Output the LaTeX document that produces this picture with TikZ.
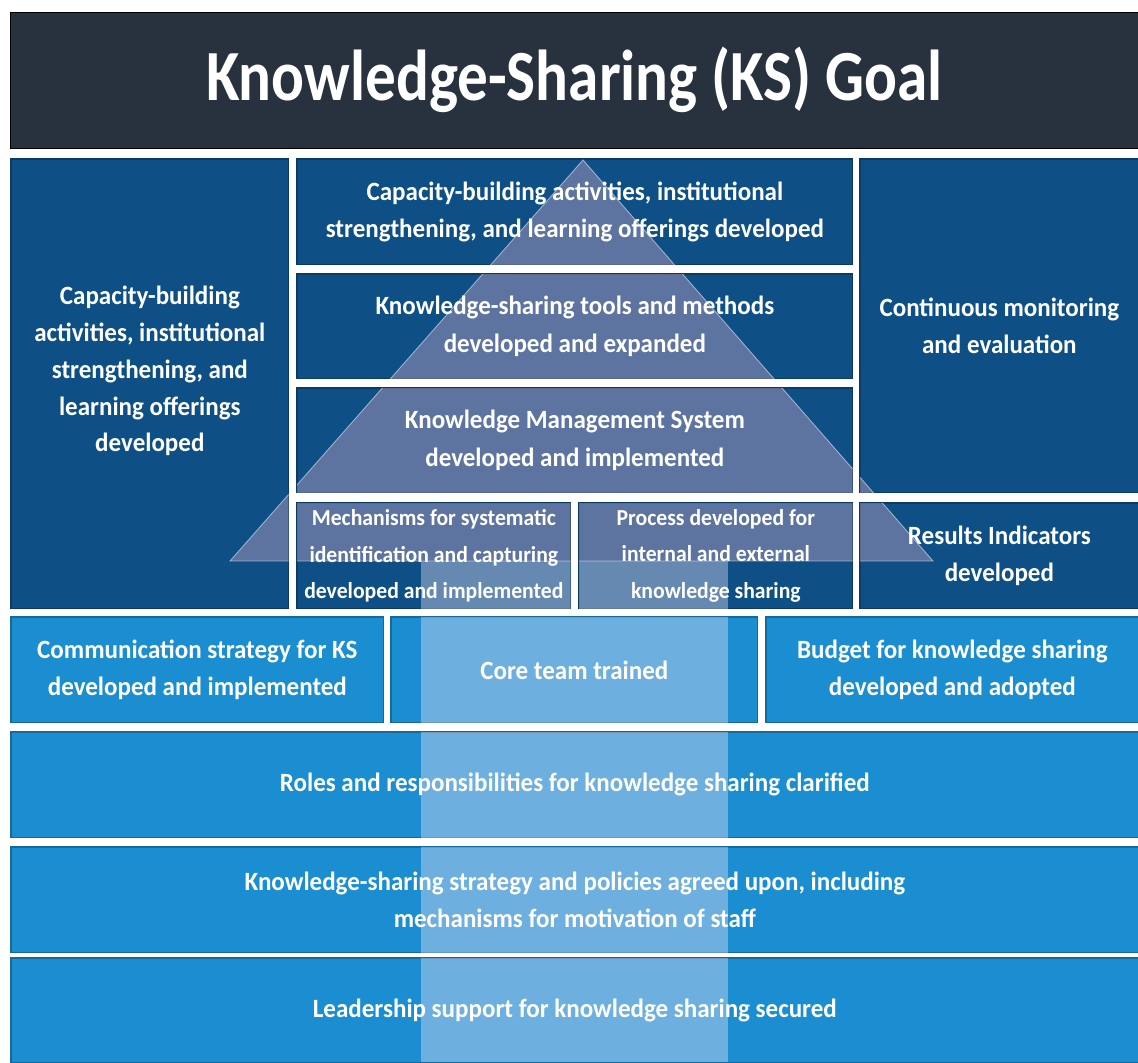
\documentclass[tikz,border=0pt]{standalone}
\usepackage{fontspec}
\setmainfont{Carlito}[FakeStretch=0.95]
\newfontfamily\goalfont{Carlito}[FakeStretch=0.85]

\definecolor{goalbg}{HTML}{28323E}
\definecolor{deepblue}{HTML}{0E4F86}
\definecolor{skyblue}{HTML}{1A8ED0}
\definecolor{pyramidcol}{RGB}{190,161,192}
\definecolor{trunkcol}{RGB}{235,225,245}

\pgfdeclarelayer{boxes}
\pgfdeclarelayer{tint}
\pgfsetlayers{boxes,tint,main}

\begin{document}
\begin{tikzpicture}[x=0.02cm, y=-0.02cm,
  cellbox/.style 2 args={anchor=north west, inner sep=0pt, minimum width=#1*0.02cm, minimum height=#2*0.02cm, text=white, align=center, font=\bfseries\fontsize{15}{21.5}\selectfont},
  smalltext/.style={font=\bfseries\fontsize{13}{20.8}\selectfont},
  pyramid/.style={fill=pyramidcol, fill opacity=0.45},
  trunk/.style={fill=trunkcol, fill opacity=0.4}]
\useasboundingbox (0,0) rectangle (1138,1062);

% goal bar
\node (goal) at (10,12) [cellbox={1128}{136}, fill=goalbg, draw=black, font=\goalfont\bfseries\fontsize{41}{44}\selectfont] {Knowledge-Sharing (KS) Goal};

% upper blocks
\node (capleft) at (11,159) [cellbox={277}{449}, font=\bfseries\fontsize{15}{21}\selectfont] {Capacity-building\\activities, institutional\\strengthening, and\\learning offerings\\developed\\[-4pt]\mbox{}};
\node (cap) at (297,159) [cellbox={555}{105}] {Capacity-building activities, institutional\\strengthening, and learning offerings developed};
\node (tools) at (297,274) [cellbox={555}{104}] {Knowledge-sharing tools and methods\\developed and expanded};
\node (kms) at (297,388) [cellbox={555}{104}] {Knowledge Management System\\developed and implemented};
\node (mech) at (297,503) [cellbox={273}{105}, smalltext] {Mechanisms for systematic\\identification and capturing\\developed and implemented};
\node (proc) at (579,503) [cellbox={273}{105}, smalltext] {Process developed for\\internal and external\\knowledge sharing};
\node (monit) at (860,159) [cellbox={278}{333}] {Continuous monitoring\\and evaluation};
\node (results) at (860,503) [cellbox={278}{105}] {Results Indicators\\developed};

% lower blocks
\node (comm) at (11,617) [cellbox={372}{105}] {Communication strategy for KS\\developed and implemented};
\node (core) at (391,617) [cellbox={366}{105}] {Core team trained};
\node (budget) at (766,617) [cellbox={372}{105}] {Budget for knowledge sharing\\developed and adopted};
\node (roles) at (11,732) [cellbox={1127}{105}] {Roles and responsibilities for knowledge sharing clarified};
\node (strat) at (11,847) [cellbox={1127}{105}] {Knowledge-sharing strategy and policies agreed upon, including\\mechanisms for motivation of staff};
\node (lead) at (11,958) [cellbox={1127}{104}] {Leadership support for knowledge sharing secured};

% pyramid and trunk
\coordinate (apex) at (583,160);
\coordinate (baseR) at (933,561);
\coordinate (baseL) at (230,561);
\coordinate (trunkT) at (421,561);
\coordinate (trunkB) at (728,1062);

\begin{pgfonlayer}{boxes}
\fill[white] (0,0) rectangle (1138,1062);
\foreach \n/\c in {capleft/deepblue, cap/deepblue, tools/deepblue, kms/deepblue, mech/deepblue, proc/deepblue, monit/deepblue, results/deepblue, comm/skyblue, core/skyblue, budget/skyblue, roles/skyblue, strat/skyblue, lead/skyblue}
  \filldraw[fill=\c, draw=\c!75!black, line width=0.6pt] (\n.north west) rectangle (\n.south east);
\end{pgfonlayer}

\begin{pgfonlayer}{tint}
\foreach \n in {capleft, cap, tools, kms, mech, proc, monit, results, comm, core, budget, roles, strat, lead} {
  \begin{scope}
    \clip (\n.north west) rectangle (\n.south east);
    \fill[pyramid] (apex) -- (baseR) -- (baseL) -- cycle;
    \draw[white, draw opacity=0.5, line width=0.5pt] (apex) -- (baseR) -- (baseL) -- cycle;
    \fill[trunk] (trunkT) rectangle (trunkB);
  \end{scope}
}
\end{pgfonlayer}
\end{tikzpicture}
\end{document}
